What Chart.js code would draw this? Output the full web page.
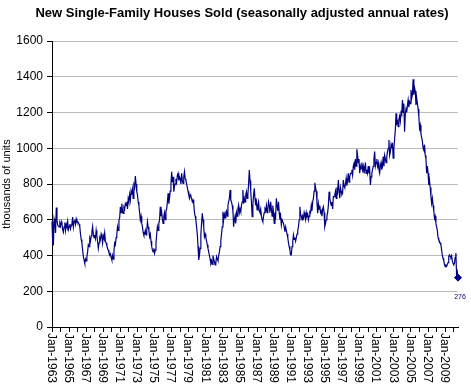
<!DOCTYPE html>
<html>
<head>
<meta charset="utf-8">
<script src="https://cdn.jsdelivr.net/npm/chart.js@4.4.0/dist/chart.umd.min.js"></script>
<style>
body { margin: 0; background: #fff; }
#wrap { width: 471px; height: 389px; }
</style>
</head>
<body>
<div id="wrap"><canvas id="myChart"></canvas></div>
<script>
var chartTitle = 'New Single-Family Houses Sold (seasonally adjusted annual rates)';
var axisTitle = 'thousands of units';
var startYear = 1963;
var monthNames = ['Jan', 'Feb', 'Mar', 'Apr', 'May', 'Jun', 'Jul', 'Aug', 'Sep', 'Oct', 'Nov', 'Dec'];

// thousands of units, monthly, Jan-1963 .. Jul-2010
var sales = [
    591, 464, 461, 605, 586, 526, 668, 597, 570, 565, 560, 580,  // 1963
    565, 590, 575, 545, 530, 560, 585, 540, 575, 560, 590, 545,  // 1964
    560, 575, 550, 570, 580, 615, 560, 590, 600, 575, 605, 590,  // 1965
    590, 585, 575, 560, 520, 490, 470, 430, 395, 375, 356, 380,  // 1966
    370, 395, 420, 460, 450, 495, 480, 510, 530, 561, 520, 500,  // 1967
    515, 495, 540, 510, 480, 440, 470, 500, 490, 520, 505, 470,  // 1968
    510, 495, 527, 480, 470, 455, 440, 430, 415, 403, 410, 390,  // 1969
    375, 400, 380, 430, 470, 460, 500, 520, 561, 540, 600, 610,  // 1970
    673, 640, 690, 650, 636, 670, 660, 690, 680, 701, 660, 720,  // 1971
    701, 740, 710, 760, 740, 770, 720, 794, 780, 845, 800, 757,  // 1972
    740, 700, 680, 640, 599, 620, 580, 560, 530, 515, 520, 540,  // 1973
    515, 540, 589, 560, 540, 505, 520, 480, 450, 430, 420, 440,  // 1974
    412, 430, 470, 520, 561, 540, 580, 600, 673, 620, 640, 600,  // 1975
    580, 620, 640, 600, 650, 660, 700, 748, 690, 720, 760, 800,  // 1976
    869, 810, 840, 757, 790, 800, 830, 810, 850, 860, 820, 840,  // 1977
    830, 800, 860, 820, 804, 840, 869, 830, 820, 800, 780, 760,  // 1978
    738, 720, 740, 729, 720, 700, 710, 690, 640, 620, 599, 560,  // 1979
    520, 450, 375, 400, 440, 520, 580, 636, 600, 560, 505, 520,  // 1980
    500, 480, 460, 440, 420, 400, 380, 356, 370, 350, 400, 380,  // 1981
    365, 347, 360, 393, 380, 370, 400, 420, 450, 480, 520, 560,  // 1982
    645, 600, 630, 610, 640, 650, 620, 680, 700, 720, 766, 710,  // 1983
    700, 680, 650, 561, 600, 620, 580, 640, 620, 660, 682, 640,  // 1984
    660, 645, 680, 700, 766, 690, 720, 700, 740, 757, 720, 740,  // 1985
    800, 878, 820, 760, 700, 617, 680, 740, 776, 720, 680, 700,  // 1986
    655, 680, 700, 650, 640, 660, 620, 600, 589, 620, 640, 660,  // 1987
    650, 680, 640, 660, 701, 680, 640, 700, 660, 620, 680, 640,  // 1988
    580, 640, 620, 720, 680, 650, 700, 640, 600, 620, 570, 600,  // 1989
    600, 580, 560, 533, 560, 540, 520, 500, 470, 450, 430, 403,  // 1990
    403, 450, 480, 515, 490, 500, 480, 500, 520, 540, 560, 600,  // 1991
    673, 630, 620, 599, 620, 610, 640, 620, 600, 640, 620, 630,  // 1992
    600, 620, 645, 640, 680, 650, 700, 720, 760, 807, 780, 760,  // 1993
    700, 636, 690, 660, 680, 640, 650, 620, 660, 673, 640, 561,  // 1994
    580, 600, 620, 640, 680, 757, 720, 700, 680, 700, 660, 729,  // 1995
    729, 740, 760, 720, 780, 760, 822, 760, 720, 780, 760, 740,  // 1996
    748, 822, 790, 780, 800, 832, 790, 820, 860, 810, 840, 860,  // 1997
    860, 880, 850, 900, 915, 880, 940, 900, 994, 960, 920, 940,  // 1998
    860, 900, 885, 920, 880, 900, 860, 880, 920, 860, 880, 860,  // 1999
    900, 860, 880, 794, 840, 860, 880, 900, 940, 981, 900, 920,  // 2000
    940, 900, 920, 880, 860, 900, 920, 880, 900, 953, 900, 960,  // 2001
    940, 920, 953, 980, 1000, 1046, 960, 980, 1020, 1000, 1030, 944,  // 2002
    1000, 1050, 1100, 1195, 1140, 1150, 1121, 1160, 1180, 1150, 1200, 1190,  // 2003
    1270, 1200, 1250, 1093, 1190, 1220, 1200, 1240, 1270, 1230, 1260, 1250,  // 2004
    1326, 1280, 1300, 1386, 1300, 1340, 1320, 1242, 1280, 1250, 1220, 1180,  // 2005
    1112, 1130, 1080, 1060, 1040, 1000, 990, 1020, 960, 940, 860, 900,  // 2006
    860, 794, 820, 780, 730, 692, 720, 680, 650, 608, 620, 580,  // 2007
    560, 540, 500, 487, 480, 470, 460, 430, 400, 384, 370, 350,  // 2008
    337, 345, 340, 350, 360, 395, 403, 395, 390, 400, 370, 356,  // 2009
    350, 355, 390, 414, 295, 310, 276                            // 2010
];

var tickLabels = ['Jan-1963', 'Jan-1965', 'Jan-1967', 'Jan-1969', 'Jan-1971', 'Jan-1973',
    'Jan-1975', 'Jan-1977', 'Jan-1979', 'Jan-1981', 'Jan-1983', 'Jan-1985', 'Jan-1987',
    'Jan-1989', 'Jan-1991', 'Jan-1993', 'Jan-1995', 'Jan-1997', 'Jan-1999', 'Jan-2001',
    'Jan-2003', 'Jan-2005', 'Jan-2007', 'Jan-2009'];

var labels = [];
for (var i = 0; i < sales.length; i++) {
    labels.push(monthNames[i % 12] + '-' + (startYear + Math.floor(i / 12)));
}

var lastIndex = sales.length - 1;
var font = '"Liberation Sans", Arial, sans-serif';

// title, rotated date labels and the label on the last point
var extras = {
    id: 'extras',
    afterDraw: function (chart) {
        var c = chart.ctx;
        var xs = chart.scales.x;
        c.save();
        c.fillStyle = '#000';
        c.font = 'bold 13px ' + font;
        c.textAlign = 'center';
        c.textBaseline = 'alphabetic';
        c.fillText(chartTitle, 242, 17);

        c.font = '12px ' + font;
        c.textAlign = 'left';
        c.textBaseline = 'middle';
        tickLabels.forEach(function (t) {
            var x = xs.getPixelForValue(labels.indexOf(t));
            c.save();
            c.translate(x - 1, xs.top + 6);
            c.rotate(Math.PI / 2);
            c.fillText(t, 0, 0);
            c.restore();
        });

        var meta = chart.getDatasetMeta(0);
        var pt = meta.data[lastIndex];
        c.font = '7px ' + font;
        c.fillStyle = '#000080';
        c.textAlign = 'center';
        c.fillText(String(sales[lastIndex]), pt.x + 2, pt.y + 19);
        c.restore();
    }
};

var ctx = document.getElementById('myChart').getContext('2d');
var myChart = new Chart(ctx, {
    type: 'line',
    data: {
        labels: labels,
        datasets: [{
            data: sales,
            borderColor: '#000080',
            backgroundColor: '#000080',
            borderWidth: 1.2,
            tension: 0,
            clip: false,
            pointStyle: 'rectRot',
            pointRadius: function (c) { return c.dataIndex === lastIndex ? 3.5 : 0; },
            pointBorderWidth: 1
        }]
    },
    options: {
        responsive: true,
        maintainAspectRatio: false,
        animation: false,
        layout: { padding: { top: 41, right: 13, left: 0, bottom: 0 } },
        plugins: {
            legend: { display: false },
            tooltip: { enabled: false }
        },
        scales: {
            x: {
                type: 'category',
                offset: false,
                afterFit: function (s) { s.height = 62; },
                ticks: { display: false, autoSkip: false },
                grid: {
                    drawOnChartArea: false,
                    drawTicks: true,
                    tickLength: 5,
                    tickColor: function (c) { return c.index % 12 === 0 ? '#000' : 'rgba(0,0,0,0)'; }
                },
                border: { color: '#000', width: 1 }
            },
            y: {
                min: 0,
                max: 1600,
                afterFit: function (s) { s.width = 52; },
                ticks: {
                    stepSize: 200,
                    color: '#000',
                    font: { family: font, size: 12 },
                    padding: 4,
                    callback: function (v) { return String(v); }
                },
                title: {
                    display: true,
                    text: axisTitle,
                    color: '#000',
                    font: { family: font, size: 11 },
                    padding: 0
                },
                grid: {
                    color: '#bbbbbb',
                    tickColor: '#000',
                    tickLength: 5
                },
                border: { color: '#000', width: 1 }
            }
        }
    },
    plugins: [extras]
});
</script>
</body>
</html>
